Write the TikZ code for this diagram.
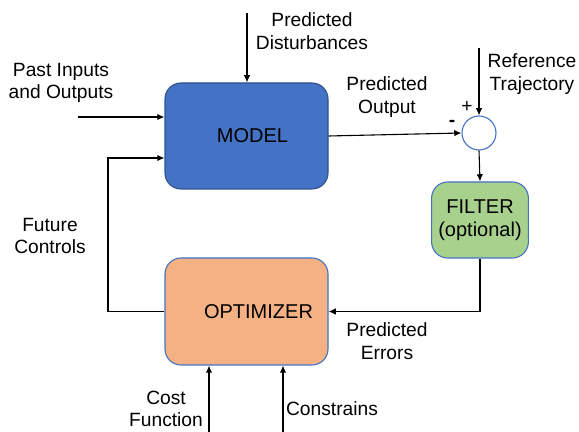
\documentclass[tikz,border=0pt]{standalone}
\usepackage{fontspec}
\setmainfont{Liberation Sans}
\usepackage{tikz}
\usepackage{xcolor}
\usetikzlibrary{calc,arrows.meta}

\definecolor{modelblue}{HTML}{4472C4}
\definecolor{modeledge}{HTML}{2F528F}
\definecolor{filtergreen}{HTML}{A9D18E}
\definecolor{optorange}{HTML}{F4B183}

\begin{document}
\begin{tikzpicture}[x=0.5pt, y=-0.5pt,
        line width=0.55pt,
        arr/.style={-{Latex[length=3.6pt,width=3.2pt]}},
        block/.style={draw, rounded corners=8pt, font=\fontsize{10}{11.5}\selectfont, align=center},
        lbl/.style={font=\fontsize{9.6}{11.2}\selectfont, align=center, inner sep=0pt}]
        \useasboundingbox (0,0) rectangle (579,432);
        \node [block, fill=modelblue, draw=modeledge, minimum width=81.5pt, minimum height=53pt] (model) at (246.5,136) {\hspace*{6pt}MODEL};
        \node [block, fill=filtergreen, draw=modelblue, minimum width=48pt, minimum height=38pt] (filter) at (480,220) {FILTER\\(optional)};
        \node [block, fill=optorange, draw=modelblue, minimum width=81.5pt, minimum height=53.5pt] (opt) at (246.5,311.5) {\hspace*{12pt}OPTIMIZER};
        \node [draw=modelblue, fill=white, circle, minimum size=17pt, inner sep=0pt] (sum) at (479,133) {};
    
        \node [lbl] (dist) at (312,31) {Predicted\\Disturbances};
        \node [lbl] (past) at (61,83) {Past Inputs\\and Outputs};
        \node [lbl] (pout) at (387,97) {Predicted\\Output};
        \node [lbl] (reft) at (532,74) {Reference\\Trajectory};
        \node [lbl] (fut) at (50,236) {Future\\Controls};
        \node [lbl] (perr) at (387,341) {Predicted\\Errors};
        \node [lbl] (cost) at (166,409) {Cost\\Function};
        \node [lbl] (cons) at (332,409) {Constrains};
        \node [lbl] (plus) at (467,107) {+};
        \node [lbl] (minus) at (452,123) {\textbf{-}};
    
        \coordinate (distin) at (247,13);
        \coordinate (pastin) at (78,117);
        \coordinate (refin) at (479,48);
        \coordinate (fb) at (108,158);
        \coordinate (costin) at (209,432);
        \coordinate (consin) at (283,432);
    
        \draw [arr] (distin) -- (distin |- model.north);
        \draw [arr] (pastin) -- (model.west |- pastin);
        \draw [arr] (model.east) -- (sum.west);
        \draw [arr] (refin) -- (sum.north);
        \draw [arr] (sum.south) -- (filter.north);
        \draw [arr] (filter.south) |- (opt.east);
        \draw [arr] (opt.west) -| (fb) -- (model.west |- fb);
        \draw [arr] (costin) -- (costin |- opt.south);
        \draw [arr] (consin) -- (consin |- opt.south);
    \end{tikzpicture}
\end{document}
